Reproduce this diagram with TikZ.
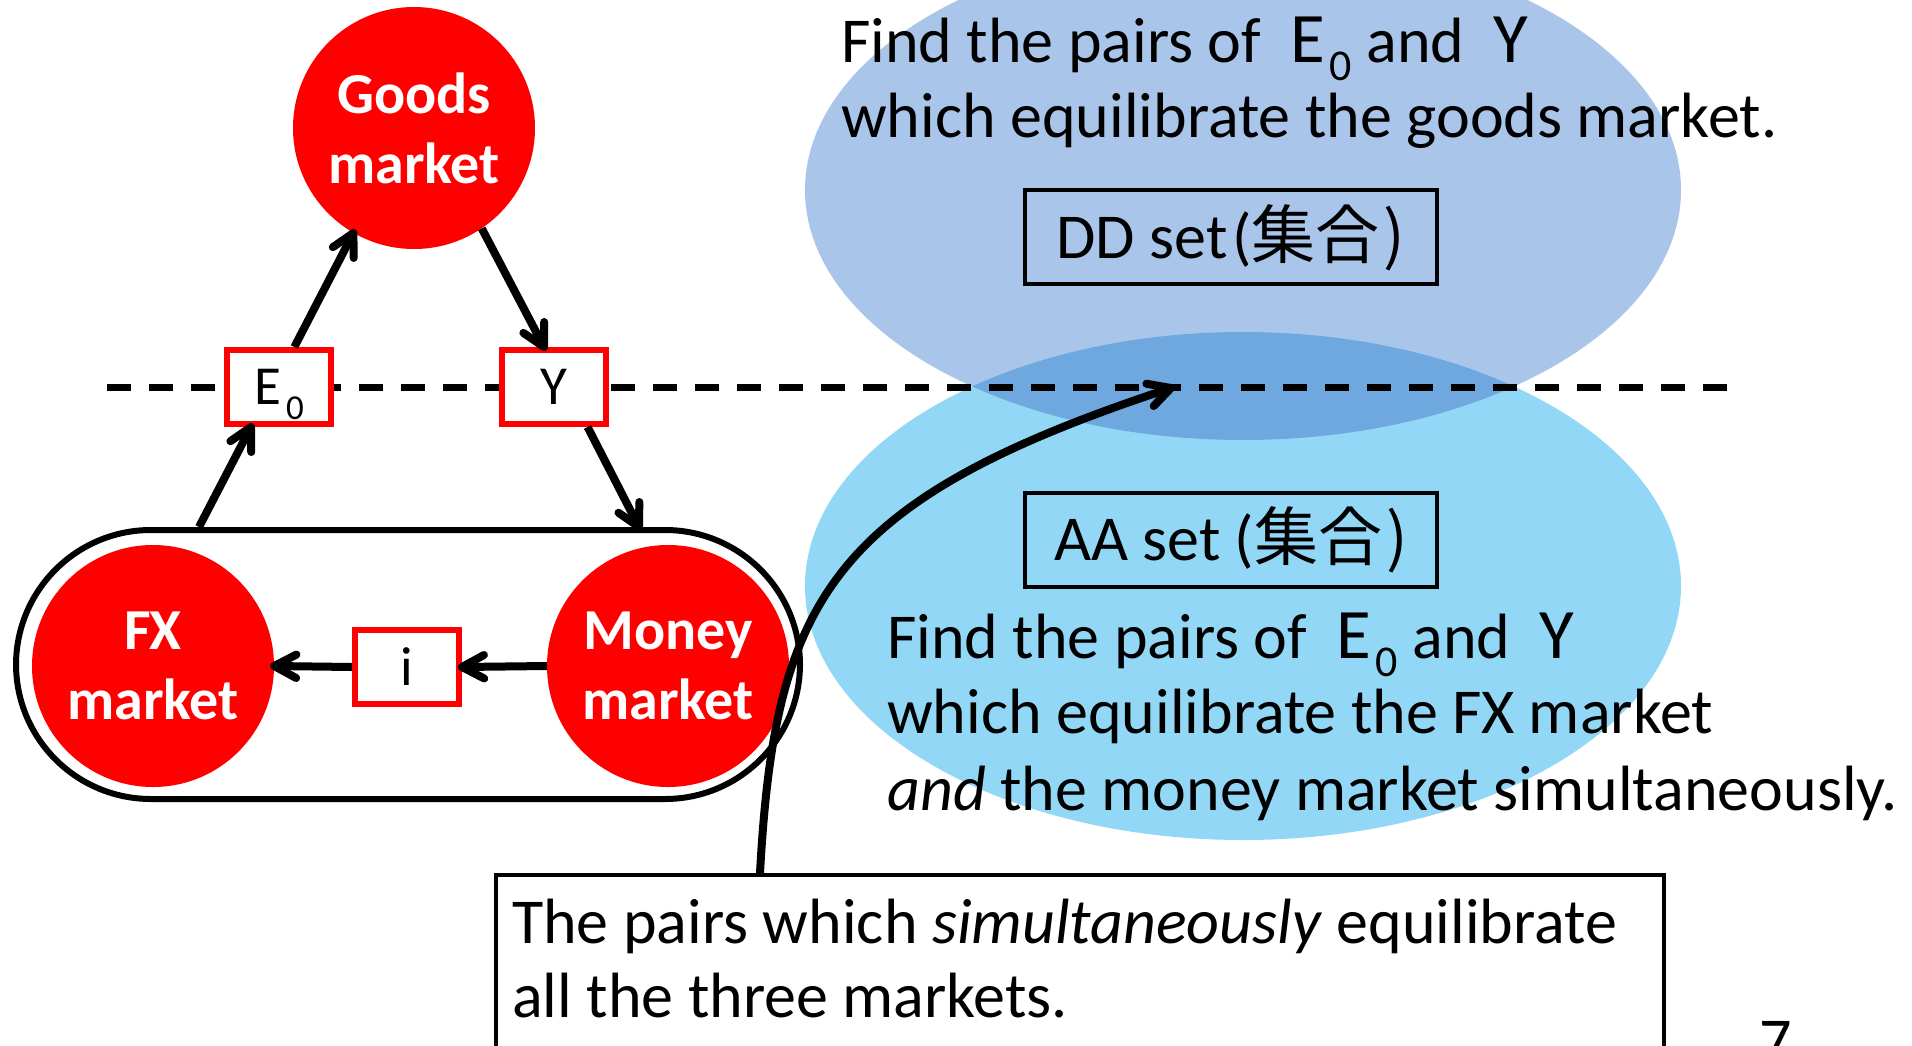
\documentclass[tikz,border=0pt]{standalone}
\usepackage{fontspec}
\setmainfont{Carlito}
\newfontfamily\cjkfont{Noto Sans CJK JP}
\usetikzlibrary{calc}
\definecolor{ddblue}{RGB}{170,197,234}
\definecolor{aablue}{RGB}{146,216,246}
\definecolor{lensblue}{RGB}{110,168,222}
\definecolor{mktred}{RGB}{255,0,0}
\newcommand\mysub[3]{\smash{\raisebox{-#2}{\fontsize{#1}{#1}\selectfont #3}}}
\newcommand\bigE{{\fontsize{71}{71}\selectfont E}}
\newcommand\bigY{{\fontsize{71}{71}\selectfont Y}}
% open arrow head drawn at #1, pointing away from #2
\newcommand\barb[2]{\draw[shaft, line cap=round, line join=round]
  ($(#1)!25pt!28:(#2)$) -- (#1) -- ($(#1)!25pt!-28:(#2)$);}
\begin{document}
\begin{tikzpicture}[x=1pt,y=-1pt,
  every node/.style={font=\fontsize{64}{77}\selectfont},
  mkt/.style={circle, fill=mktred, text=white, inner sep=0pt, minimum size=242pt,
    align=center, font=\fontsize{58}{70}\selectfont\bfseries},
  varbox/.style={draw=mktred, line width=6pt, fill=white, minimum width=104pt,
    minimum height=74pt, inner sep=0pt, font=\fontsize{55}{70}\selectfont},
  setbox/.style={draw=black, line width=4pt, minimum width=412pt, minimum height=94pt,
    inner sep=0pt, text height=50pt, text depth=8pt},
  txt/.style={anchor=base west, inner sep=0pt},
  shaft/.style={line width=8pt},
]
\useasboundingbox (0,0) rectangle (1912,1045);

% ellipses
\fill[ddblue] (1243,190) ellipse [x radius=438, y radius=250];
\fill[aablue] (1243,586) ellipse [x radius=438, y radius=254];
\begin{scope}
  \clip (1243,190) ellipse [x radius=438, y radius=250];
  \fill[lensblue] (1243,586) ellipse [x radius=438, y radius=254];
\end{scope}

% texts in ellipses
\node[txt] (ddl1) at (841,62) {Find the pairs of\hspace{0.45em}\bigE\hspace{5pt}\mysub{44pt}{18pt}{0} and\hspace{0.45em}\bigY};
\node[txt] (ddl2) at (841,137) {which equilibrate the goods market.};
\node[setbox] (dd) at (1231,237) {DD set\hspace{5pt}(\cjkfont 集合\hspace{4pt})};

\node[setbox] (aa) at (1231,539.5) {AA set (\cjkfont 集合\hspace{4pt})};
\node[txt] (aal1) at (887,658) {Find the pairs of\hspace{0.45em}\bigE\hspace{5pt}\mysub{44pt}{18pt}{0} and\hspace{0.45em}\bigY};
\node[txt] (aal2) at (887,733) {which equilibrate the FX market};
\node[txt] (aal3) at (887,810) {\textit{and} the money market simultaneously.};

% dashed line
\coordinate (dashL) at (107,387);
\coordinate (dashR) at (1732,387);
\draw[line width=7pt, dash pattern=on 24pt off 18pt] (dashL) -- (dashR);

% stadium and markets
\node[draw, line width=6pt, rounded corners=135pt, minimum width=784pt, minimum height=269pt,
  inner sep=0pt] (stad) at (408,664.5) {};
\node[mkt] (goods) at (414,128) {Goods\\market};
\node[mkt] (fx) at (153,666) {FX\\market};
\node[mkt] (money) at (668,666) {Money\\market};

\node[varbox] (E0) at (279,387) {E\hspace{5pt}\mysub{35pt}{15pt}{0}\hspace{17pt}};
\node[varbox] (Y) at (554,387) {Y};
\node[varbox] (ibox) at (407,667) {i};

% arrows
\coordinate (st1) at ($(stad.north west)+(186,0)$);
\coordinate (st2) at ($(stad.north west)+(626,0)$);
\draw[shaft] (E0.69) -- (goods.240);   \barb{goods.240}{E0.69}
\draw[shaft] (goods.304) -- (Y.104);   \barb{Y.104}{goods.304}
\draw[shaft] (st1) -- (E0.235);        \barb{E0.235}{st1}
\draw[shaft] (Y.310) -- (st2);         \barb{st2}{Y.310}
\draw[shaft] (money.west) -- (ibox.east); \barb{ibox.east}{money.west}
\draw[shaft] (ibox.west) -- (fx.east);    \barb{fx.east}{ibox.west}

% bottom box
\node[draw, line width=4pt, fill=white, anchor=north west, minimum width=1168pt,
  minimum height=260pt, inner sep=0pt] (bot) at (494,873) {};
\node[txt] (botl1) at (512,943) {The pairs which \textit{simultaneously} equilibrate};
\node[txt] (botl2) at (512,1017) {all the three markets.};

% curve
\coordinate (meet) at (1171,388);
\coordinate (cstart) at ($(bot.north west)+(266,0)$);
\coordinate (cc2) at (830,500);
\draw[shaft] (cstart) .. controls (775,600) and (cc2) .. (meet);
\barb{meet}{cc2}

% page number
\node[txt] (pg) at (1759,1062) {7};
\end{tikzpicture}
\end{document}
